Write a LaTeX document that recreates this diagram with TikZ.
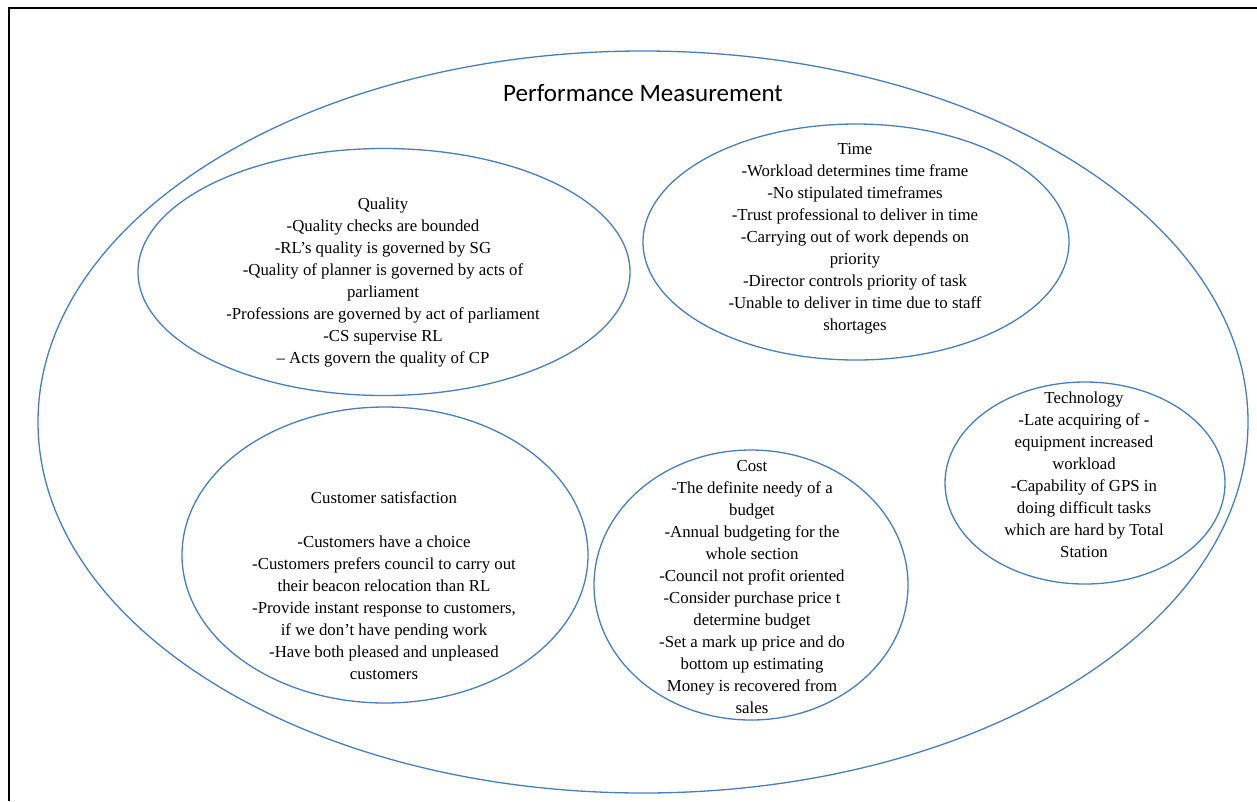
\documentclass[tikz,border=0pt]{standalone}
\usepackage{fontspec}
\newfontfamily\bodyfont{LiberationSerif}[Extension=.ttf, UprightFont=*-Regular]
\newfontfamily\titlefont{Carlito}
\usetikzlibrary{shapes.geometric}
\definecolor{ellblue}{RGB}{74,126,187}
\tikzset{
  ell/.style={draw=ellblue, line width=1.3pt, ellipse, inner sep=0pt},
  body/.style={align=center, inner sep=0pt, text=black, font=\bodyfont\fontsize{16.8}{22}\selectfont},
  frameline/.style={draw=black, line width=2.2pt}
}
\begin{document}
\begin{tikzpicture}[x=1pt,y=-1pt]
\useasboundingbox (0,0) rectangle (1257,801);
% frame (top and left edges only)
\coordinate (fTR) at (1257,7.8);
\coordinate (fTL) at (8.8,7.8);
\coordinate (fBL) at (8.8,801);
\draw[frameline] (fTR) -- (fTL) -- (fBL);

% outer ellipse
\node[ell, minimum width=1210pt, minimum height=742pt] (outer) at (643,422) {};
\node[font=\titlefont\fontsize{25}{30}\selectfont, inner sep=0pt] (title) at (643,93) {Performance Measurement};

% Quality
\node[ell, minimum width=492pt, minimum height=247pt] (quality) at (384,272) {};
\node[body] (qualityText) at (383,282) {Quality\\
-Quality checks are bounded\\
-RL’s quality is governed by SG\\
-Quality of planner is governed by acts of\\
parliament\\
-Professions are governed by act of parliament\\
-CS supervise RL\\
– Acts govern the quality of CP};

% Time
\node[ell, minimum width=426pt, minimum height=236pt] (time) at (856,242) {};
\node[body] (timeText) at (855,239) {Time\\
-Workload determines time frame\\
-No stipulated timeframes\\
-Trust professional to deliver in time\\
-Carrying out of work depends on\\
priority\\
-Director controls priority of task\\
-Unable to deliver in time due to staff\\
shortages};

% Customer satisfaction
\node[ell, minimum width=406pt, minimum height=296pt] (customer) at (385,555) {};
\node[body] (customerText) at (384,586) {Customer satisfaction\\[22pt]
-Customers have a choice\\
-Customers prefers council to carry out\\
their beacon relocation than RL\\
-Provide instant response to customers,\\
if we don’t have pending work\\
-Have both pleased and unpleased\\
customers};

% Cost
\node[ell, minimum width=314pt, minimum height=270pt] (cost) at (751,585) {};
\node[body] (costText) at (752,587) {Cost\\
-The definite needy of a\\
budget\\
-Annual budgeting for the\\
whole section\\
-Council not profit oriented\\
-Consider purchase price t\\
determine budget\\
-Set a mark up price and do\\
bottom up estimating\\
Money is recovered from\\
sales};

% Technology
\node[ell, minimum width=280pt, minimum height=202pt] (technology) at (1085,483) {};
\node[body] (technologyText) at (1084,475) {Technology\\
-Late acquiring of -\\
equipment increased\\
workload\\
-Capability of GPS in\\
doing difficult tasks\\
which are hard by Total\\
Station};
\end{tikzpicture}
\end{document}
